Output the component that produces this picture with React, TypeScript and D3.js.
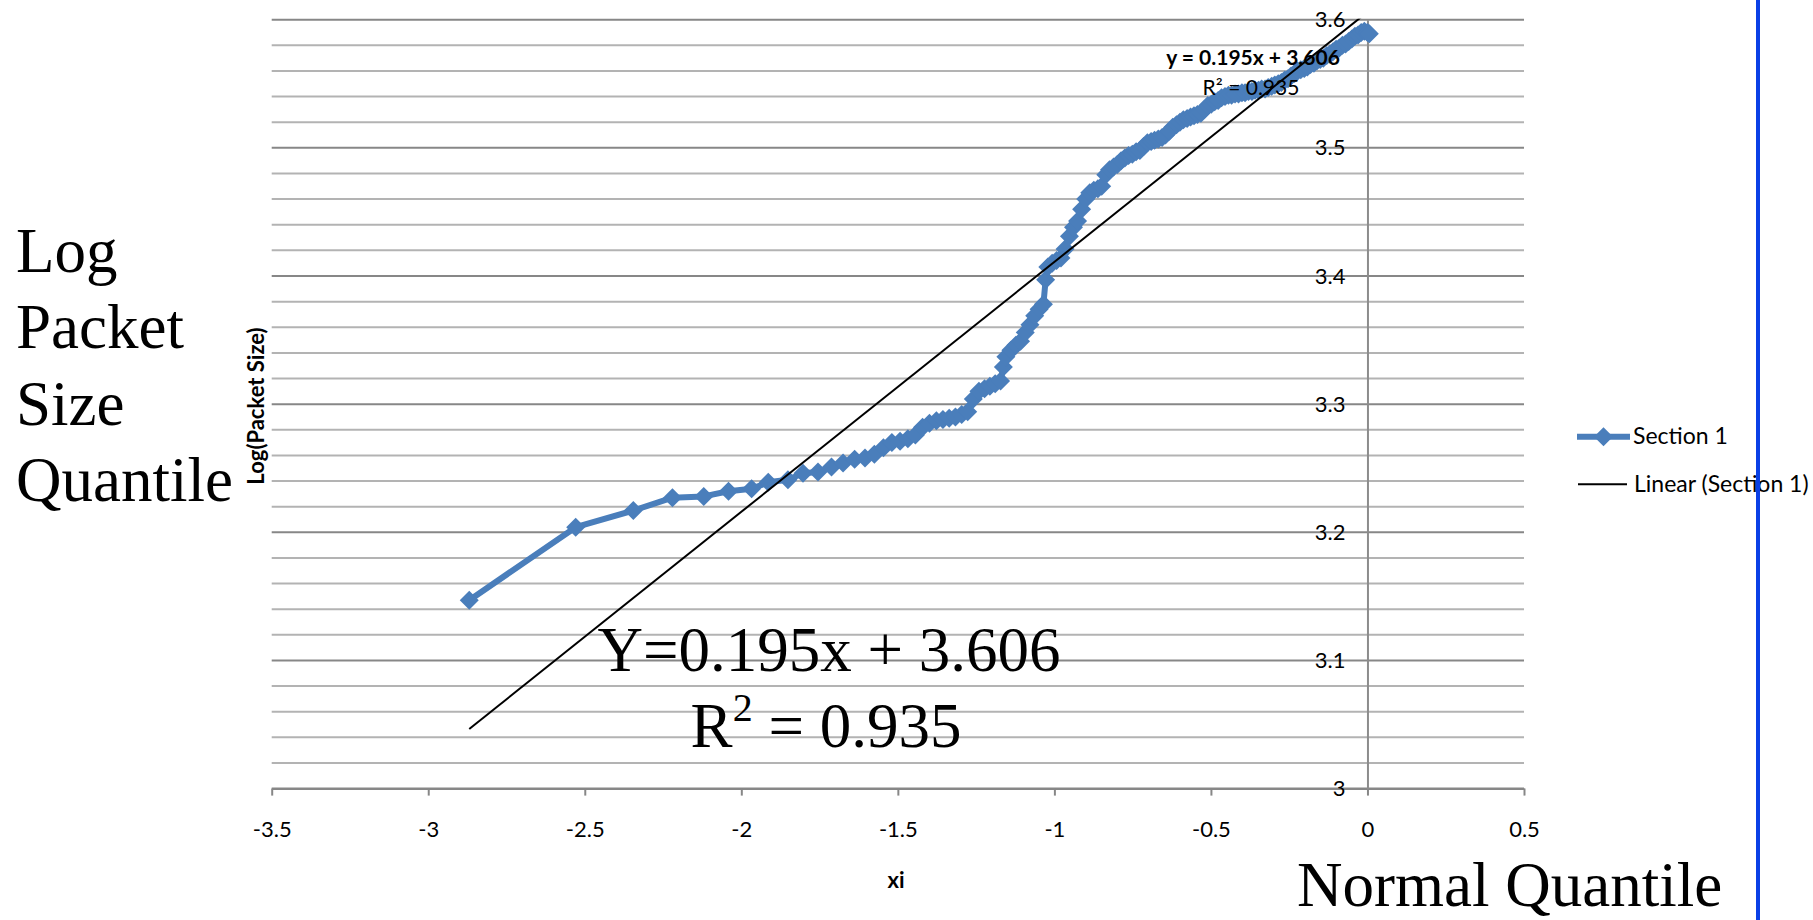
import React, { useRef, useEffect } from 'react'
import * as d3 from 'd3'

// normal quantile (xi) vs log(packet size)
const xiValues = [
  -2.869, -2.529, -2.345, -2.220, -2.120, -2.041, -1.967, -1.914, -1.851, -1.803,
  -1.755, -1.712, -1.675, -1.638, -1.605, -1.575, -1.546, -1.519, -1.493, -1.468,
  -1.444, -1.421, -1.399, -1.377, -1.356, -1.336, -1.316, -1.296, -1.277, -1.259,
  -1.241, -1.223, -1.206, -1.189, -1.172, -1.163, -1.155, -1.139, -1.123, -1.108,
  -1.093, -1.078, -1.063, -1.049, -1.035, -1.028, -1.021, -1.007, -0.993, -0.979,
  -0.966, -0.952, -0.939, -0.926, -0.913, -0.900, -0.887, -0.874, -0.861, -0.849,
  -0.836, -0.824, -0.811, -0.799, -0.787, -0.775, -0.763, -0.751, -0.739, -0.727,
  -0.715, -0.703, -0.691, -0.680, -0.668, -0.656, -0.645, -0.633, -0.622, -0.610,
  -0.599, -0.588, -0.576, -0.565, -0.554, -0.543, -0.532, -0.521, -0.510, -0.499,
  -0.488, -0.477, -0.466, -0.455, -0.444, -0.434, -0.423, -0.412, -0.401, -0.391,
  -0.380, -0.369, -0.359, -0.348, -0.338, -0.327, -0.317, -0.306, -0.296, -0.285,
  -0.275, -0.264, -0.254, -0.244, -0.233, -0.223, -0.213, -0.202, -0.192, -0.182,
  -0.171, -0.161, -0.151, -0.141, -0.130, -0.120, -0.110, -0.100, -0.090, -0.080,
  -0.070, -0.060, -0.050, -0.040, -0.030, -0.020, -0.010, 0.000, 0.006
]
const logSizeValues = [
  3.147, 3.204, 3.217, 3.227, 3.228, 3.232, 3.234, 3.239, 3.241, 3.246,
  3.247, 3.251, 3.254, 3.257, 3.258, 3.261, 3.266, 3.270, 3.271, 3.273,
  3.276, 3.282, 3.285, 3.287, 3.288, 3.289, 3.290, 3.292, 3.294, 3.304,
  3.310, 3.312, 3.314, 3.316, 3.318, 3.329, 3.337, 3.342, 3.346, 3.349,
  3.356, 3.362, 3.369, 3.374, 3.378, 3.397, 3.407, 3.410, 3.412, 3.414,
  3.421, 3.431, 3.438, 3.443, 3.452, 3.460, 3.465, 3.467, 3.468, 3.470,
  3.479, 3.483, 3.485, 3.487, 3.490, 3.492, 3.494, 3.495, 3.497, 3.498,
  3.501, 3.504, 3.505, 3.506, 3.507, 3.508, 3.510, 3.513, 3.516, 3.518,
  3.520, 3.522, 3.523, 3.524, 3.525, 3.526, 3.527, 3.530, 3.533, 3.534,
  3.536, 3.537, 3.539, 3.540, 3.541, 3.541, 3.542, 3.542, 3.543, 3.543,
  3.544, 3.544, 3.545, 3.545, 3.546, 3.546, 3.547, 3.548, 3.549, 3.550,
  3.551, 3.553, 3.554, 3.556, 3.558, 3.560, 3.561, 3.562, 3.563, 3.565,
  3.566, 3.568, 3.569, 3.570, 3.572, 3.573, 3.575, 3.577, 3.578, 3.580,
  3.581, 3.583, 3.585, 3.587, 3.588, 3.590, 3.591, 3.590, 3.589
]

const xTicks = [-3.5, -3, -2.5, -2, -1.5, -1, -0.5, 0, 0.5]
const yMajorTicks = [3, 3.1, 3.2, 3.3, 3.4, 3.5, 3.6]
const yMinorTicks = [
  3.02, 3.04, 3.06, 3.08, 3.12, 3.14, 3.16, 3.18, 3.22, 3.24, 3.26, 3.28,
  3.32, 3.34, 3.36, 3.38, 3.42, 3.44, 3.46, 3.48, 3.52, 3.54, 3.56, 3.58
]

const trendSlope = 0.195
const trendIntercept = 3.606
const trendR2 = 0.935

const seriesNames = ['Section 1', 'Linear (Section 1)']
const sideLabelLines = ['Log', 'Packet', 'Size', 'Quantile']
const bottomLabel = 'Normal Quantile'

const layout = { width: 1813, height: 920, left: 271.7, right: 1524, top: 19.7, bottom: 788.6 }

const colors = { series: '#4a7ebb', major: '#878787', minor: '#b3b3b3', marker: '#0a40e6' }
const excelFont = 'Lato, "Open Sans", sans-serif'
const serifFont = '"Liberation Serif", "Times New Roman", serif'

const diamond = (r: number) => `M0,${-r}L${r},0L0,${r}L${-r},0Z`

export default function App() {
  const ref = useRef<SVGSVGElement>(null)

  useEffect(() => {
    const svg = d3.select(ref.current)
    svg.selectAll('*').remove()

    const xScale = d3.scaleLinear().domain([-3.5, 0.5]).range([layout.left, layout.right])
    const yScale = d3.scaleLinear().domain([3, 3.6]).range([layout.bottom, layout.top])

    svg.append('defs').append('clipPath').attr('id', 'plotClip')
      .append('rect')
      .attr('x', layout.left).attr('y', layout.top - 1)
      .attr('width', layout.right - layout.left).attr('height', layout.bottom - layout.top + 1)

    // gridlines
    svg.append('g').selectAll('line')
      .data(yMinorTicks)
      .join('line')
      .attr('x1', layout.left).attr('x2', layout.right)
      .attr('y1', d => yScale(d)).attr('y2', d => yScale(d))
      .attr('stroke', colors.minor).attr('stroke-width', 2)

    svg.append('g').selectAll('line')
      .data(yMajorTicks)
      .join('line')
      .attr('x1', layout.left).attr('x2', layout.right)
      .attr('y1', d => yScale(d)).attr('y2', d => yScale(d))
      .attr('stroke', colors.major).attr('stroke-width', 2)

    // axes
    const xAxis = svg.append('g')
      .attr('transform', `translate(0, ${yScale(3)})`)
      .call(d3.axisBottom(xScale).tickValues(xTicks).tickFormat(d => String(d))
        .tickSize(7).tickSizeOuter(0).tickPadding(26))
    xAxis.attr('font-family', excelFont).attr('font-size', 22)
    xAxis.select('.domain').attr('stroke', colors.major).attr('stroke-width', 2)
    xAxis.selectAll('.tick line').attr('stroke', colors.major).attr('stroke-width', 2)
    xAxis.selectAll('.tick text').attr('fill', '#000')

    const yAxis = svg.append('g')
      .attr('transform', `translate(${xScale(0)}, 0)`)
      .call(d3.axisLeft(yScale).tickValues(yMajorTicks).tickFormat(d => String(d))
        .tickSize(0).tickSizeOuter(0).tickPadding(22))
    yAxis.attr('font-family', excelFont).attr('font-size', 22)
    yAxis.select('.domain').attr('stroke', '#8c8c8c').attr('stroke-width', 2)
    yAxis.selectAll('.tick text').attr('fill', '#000')

    // axis titles
    svg.append('text')
      .attr('x', 896).attr('y', 888)
      .attr('text-anchor', 'middle')
      .attr('font-family', excelFont).attr('font-weight', 'bold').attr('font-size', 22)
      .text('xi')

    svg.append('text')
      .attr('transform', 'translate(264, 406) rotate(-90)')
      .attr('text-anchor', 'middle')
      .attr('font-family', excelFont).attr('font-weight', 'bold').attr('font-size', 22)
      .text('Log(Packet Size)')

    // series
    const points = xiValues.map((v, i) => [v, logSizeValues[i]] as [number, number])
    const line = d3.line<[number, number]>().x(d => xScale(d[0])).y(d => yScale(d[1]))

    svg.append('path')
      .datum(points)
      .attr('d', line)
      .attr('fill', 'none')
      .attr('stroke', colors.series).attr('stroke-width', 6)
      .attr('stroke-linejoin', 'round')

    svg.append('g').selectAll('path')
      .data(points)
      .join('path')
      .attr('transform', d => `translate(${xScale(d[0])}, ${yScale(d[1])})`)
      .attr('d', diamond(9.5))
      .attr('fill', colors.series)

    // excel trendline label
    svg.append('text')
      .attr('x', 1253).attr('y', 65)
      .attr('text-anchor', 'middle')
      .attr('font-family', excelFont).attr('font-weight', 'bold').attr('font-size', 21)
      .text(`y = ${trendSlope}x + ${trendIntercept}`)
    svg.append('text')
      .attr('x', 1251).attr('y', 95)
      .attr('text-anchor', 'middle')
      .attr('font-family', excelFont).attr('font-size', 21)
      .text(`R² = ${trendR2}`)

    // linear trendline
    const xExtent = d3.extent(xiValues) as [number, number]
    svg.append('path')
      .datum(xExtent.map(v => [v, trendSlope * v + trendIntercept] as [number, number]))
      .attr('d', line)
      .attr('clip-path', 'url(#plotClip)')
      .attr('fill', 'none')
      .attr('stroke', '#000').attr('stroke-width', 2)

    // legend
    const legend = svg.append('g')
    legend.append('line')
      .attr('x1', 1577).attr('x2', 1630).attr('y1', 436.7).attr('y2', 436.7)
      .attr('stroke', colors.series).attr('stroke-width', 6)
    legend.append('path')
      .attr('transform', 'translate(1603.5, 436.7)')
      .attr('d', diamond(9.5))
      .attr('fill', colors.series)
    legend.append('line')
      .attr('x1', 1578).attr('x2', 1627).attr('y1', 484.3).attr('y2', 484.3)
      .attr('stroke', '#000').attr('stroke-width', 2)
    legend.selectAll('text')
      .data(seriesNames)
      .join('text')
      .attr('x', (d, i) => 1633 + i)
      .attr('y', (d, i) => 444 + i * 47.5)
      .attr('font-family', excelFont).attr('font-size', 23)
      .text(d => d)

    // big annotations
    svg.append('g').selectAll('text')
      .data(sideLabelLines)
      .join('text')
      .attr('x', 16)
      .attr('y', (d, i) => 272 + i * 76.3)
      .attr('font-family', serifFont).attr('font-size', 63)
      .text(d => d)

    const eq = svg.append('g')
      .attr('font-family', serifFont).attr('font-size', 63)
      .attr('text-anchor', 'middle')
    eq.append('text')
      .attr('x', 829).attr('y', 671)
      .text(`Y=${trendSlope}x + ${trendIntercept}`)
    const r2 = eq.append('text').attr('x', 826).attr('y', 747)
    r2.append('tspan').text('R')
    r2.append('tspan').attr('font-size', 40).attr('dy', -26).text('2')
    r2.append('tspan').attr('dy', 26).text(` = ${trendR2}`)

    svg.append('text')
      .attr('x', 1297).attr('y', 906)
      .attr('font-family', serifFont).attr('font-size', 63)
      .text(bottomLabel)

    // blue slide edge
    svg.append('line')
      .attr('x1', 1758).attr('x2', 1758).attr('y1', 0).attr('y2', layout.height)
      .attr('stroke', colors.marker).attr('stroke-width', 4)
  }, [])

  return (
    <svg ref={ref} width={layout.width} height={layout.height}
      style={{ position: 'absolute', left: 0, top: 0, background: '#fff' }} />
  )
}
